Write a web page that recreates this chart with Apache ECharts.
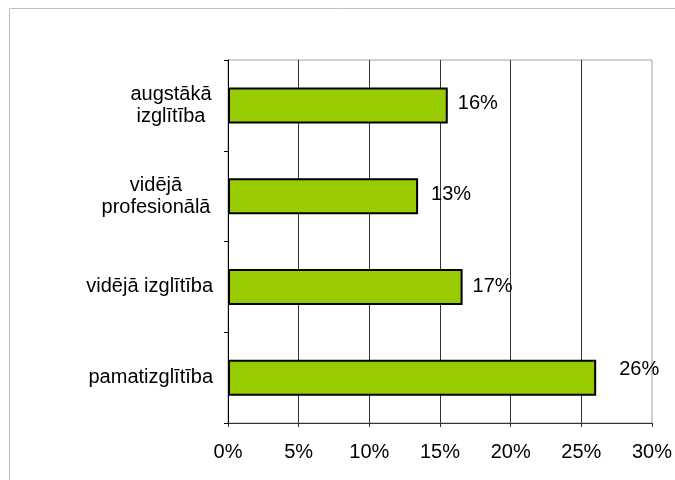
<!DOCTYPE html>
<html>
<head>
<meta charset="utf-8">
<script src="https://cdn.jsdelivr.net/npm/echarts@6/dist/echarts.min.js"></script>
<style>html,body{margin:0;padding:0;background:#fff}#c{width:675px;height:480px}</style>
</head>
<body>
<div id="c"></div>
<script>
// bottom to top
var categories = ['pamatizglītība', 'vidējā izglītība', 'vidējā\nprofesionālā', 'augstākā\nizglītība'];
var values = [26.05, 16.6, 13.45, 15.55];
var tickLabels = ['0%', '5%', '10%', '15%', '20%', '25%', '30%'];

var labelOffsets = [[13, -8], [0, 0], [3, -2], [0, -2]];
var chart = echarts.init(document.getElementById('c'));
var font = '"Liberation Sans", Arial, sans-serif';
chart.setOption({
  animation: false,
  backgroundColor: '#fff',
  graphic: [{
    type: 'rect', shape: {x: 9.5, y: 8.5, width: 800, height: 600},
    style: {fill: 'none', stroke: '#c0c0c0', lineWidth: 1}, silent: true, z: -10
  }],
  grid: {left: 228, right: 21, top: 60, bottom: 57, show: true, borderColor: '#a0a0a0', borderWidth: 1, backgroundColor: '#fff'},
  xAxis: {
    type: 'value', min: 0, max: 30, interval: 5,
    axisLine: {show: true, lineStyle: {color: '#333', width: 1}},
    axisTick: {show: true, length: 4, lineStyle: {color: '#333'}},
    splitLine: {show: true, showMaxLine: false, lineStyle: {color: '#333', width: 1}},
    axisLabel: {
      margin: 19, color: '#000', fontFamily: font, fontSize: 20,
      formatter: function (v) { return tickLabels[Math.round(v / 5)]; }
    }
  },
  yAxis: {
    type: 'category', data: categories,
    axisLine: {show: true, lineStyle: {color: '#000', width: 1}},
    axisTick: {show: true, length: 4, lineStyle: {color: '#000'}},
    axisLabel: {
      margin: 15, color: '#000', fontFamily: font, fontSize: 20, lineHeight: 22,
      formatter: function (v) {
        if (v.indexOf('\n') < 0) return v;
        var style = v.indexOf('profes') >= 0 ? 'p' : 'a';
        return v.split('\n').map(function (l) { return '{' + style + '|' + l + '}'; }).join('\n');
      },
      rich: {
        a: {width: 84, align: 'center', fontFamily: font, fontSize: 20, lineHeight: 22, color: '#000'},
        p: {width: 114, align: 'center', fontFamily: font, fontSize: 20, lineHeight: 22, color: '#000'}
      }
    }
  },
  series: [{
    type: 'bar',
    data: values.map(function (v, i) {
      return {value: v, label: {offset: labelOffsets[i]}};
    }),
    barWidth: 36,
    itemStyle: {color: '#99cc00', borderColor: '#000', borderWidth: 2},
    label: {
      show: true, position: 'right', distance: 10, color: '#000',
      fontFamily: font, fontSize: 20,
      formatter: function (p) { return Math.round(p.value) + '%'; }
    }
  }]
});
</script>
</body>
</html>
